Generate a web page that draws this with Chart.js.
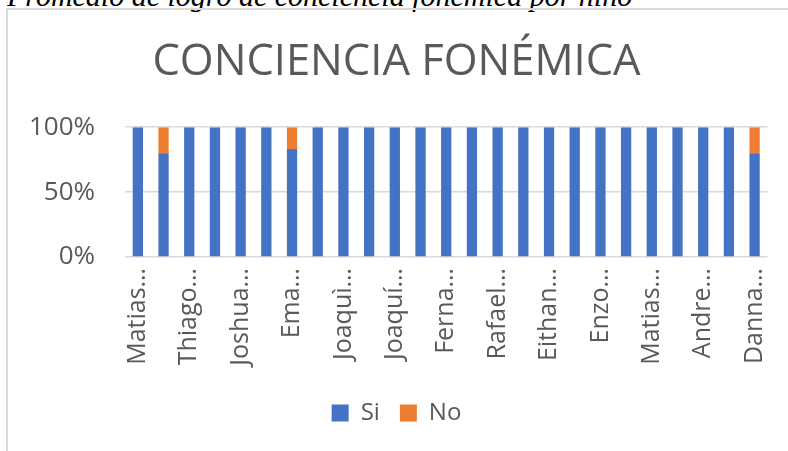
<!DOCTYPE html>
<html><head><meta charset="utf-8">
<script src="https://cdn.jsdelivr.net/npm/chart.js@4"></script>
<style>
html,body{margin:0;padding:0;background:#fff;overflow:hidden;width:788px;height:451px;}
#cap{position:absolute;left:7px;top:-19px;font:italic 30px "Liberation Serif","Times New Roman",serif;line-height:30px;white-space:nowrap;color:#000;}
#frame{position:absolute;left:6px;top:8px;width:800px;height:460px;border-top:2px solid #d9d9d9;border-left:2px solid #d9d9d9;}
#wrap{position:absolute;left:0;top:0;width:788px;height:451px;}
</style></head>
<body>
<div id="cap">Promedio de logro de conciencia fonémica por niño</div>
<div id="frame"></div>
<div id="wrap"><canvas id="c"></canvas></div>
<script>
const categories = ["Matias…","","Thiago…","","Joshua…","","Ema…","","Joaquì…","","Joaquí…","","Ferna…","","Rafael…","","Eithan…","","Enzo…","","Matias…","","Andre…","","Danna…"];
const siValues = [100,80,100,100,100,100,83.3,100,100,100,100,100,100,100,100,100,100,100,100,100,100,100,100,100,80];
const noValues = [0,20,0,0,0,0,16.7,0,0,0,0,0,0,0,0,0,0,0,0,0,0,0,0,0,20];
const yTicks = [0,50,100];
const chartTitle = "CONCIENCIA FONÉMICA";
const seriesNames = ["Si","No"];

const FONT = '"Open Sans", "Noto Sans", sans-serif';
const GREY = '#595959';

new Chart(document.getElementById('c'), {
  type: 'bar',
  data: {
    labels: categories,
    datasets: [
      {label: seriesNames[0], data: siValues, backgroundColor: '#4472C4', borderWidth: 0},
      {label: seriesNames[1], data: noValues, backgroundColor: '#ED7D31', borderWidth: 0}
    ]
  },
  options: {
    responsive: true,
    maintainAspectRatio: false,
    animation: false,
    layout: {padding: {left: 25, right: 20, top: 0, bottom: 16}},
    datasets: {bar: {categoryPercentage: 1, barPercentage: 0.4}},
    plugins: {
      title: {display: true, text: chartTitle, color: GREY, font: {family: FONT, size: 43.5, weight: 'normal'}, padding: {top: 37, bottom: 38}},
      legend: {position: 'bottom', labels: {boxWidth: 17, boxHeight: 17, color: GREY, font: {family: FONT, size: 24}, padding: 20}},
      tooltip: {enabled: false}
    },
    scales: {
      x: {
        stacked: true,
        grid: {display: false},
        border: {display: false},
        afterFit: (axis) => { axis.height = 124; },
        ticks: {autoSkip: false, maxRotation: 90, minRotation: 90, color: GREY, font: {family: FONT, size: 25}, padding: 3}
      },
      y: {
        stacked: true,
        min: 0, max: 100,
        afterBuildTicks: (axis) => { axis.ticks = yTicks.map(v => ({value: v})); },
        afterFit: (axis) => { axis.width = 100; },
        grid: {color: '#d9d9d9', lineWidth: 1.5, drawTicks: false},
        border: {display: false},
        ticks: {color: GREY, font: {family: FONT, size: 26}, padding: 30, callback: v => v + '%'}
      }
    }
  }
});
</script>
</body></html>
